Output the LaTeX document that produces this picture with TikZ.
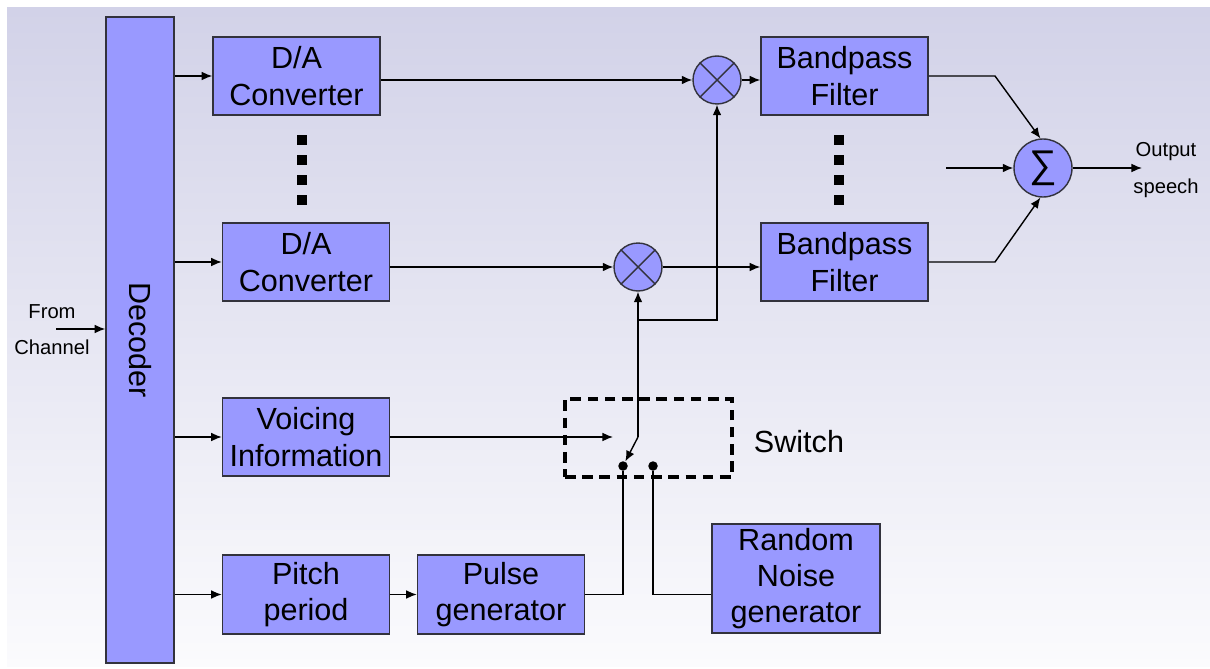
\documentclass[tikz,border=0pt]{standalone}
\usepackage{fontspec}
\setmainfont{Liberation Sans}
\usetikzlibrary{arrows.meta}

\definecolor{boxblue}{RGB}{153,153,255}
\definecolor{bgtop}{RGB}{210,210,232}
\definecolor{bgbot}{RGB}{251,251,253}
\definecolor{edge}{RGB}{50,50,60}

\begin{document}
\begin{tikzpicture}[
  x=0.02cm, y=-0.02cm,
  block/.style={draw=edge, fill=boxblue, line width=0.9pt, minimum width=3.34cm, minimum height=1.56cm,
                align=center, inner sep=1pt, font=\fontsize{17.4}{20.7}\selectfont},
  mixer/.style={circle, draw=edge, fill=boxblue, line width=0.8pt, minimum size=0.96cm, inner sep=0pt},
  arrow/.style={-{Latex[length=6pt, width=5pt]}, line width=0.8pt},
  wire/.style={line width=0.8pt},
  small/.style={font=\fontsize{11.5}{13}\selectfont},
  contact/.style={circle, fill=black, minimum size=0.19cm, inner sep=0pt},
]

% Background
\useasboundingbox (0,0) rectangle (1210,669);
\shade[top color=bgtop, bottom color=bgbot] (7,8) rectangle (1210,666);

% Decoder
\node[block, minimum width=1.36cm, minimum height=12.92cm] (dec) at (140,340) {};
\node[rotate=-90, font=\fontsize{17.4}{20.7}\selectfont] (declabel) at (dec.center) {Decoder};
\node[small] (from) at (52,312) {From};
\node[small] (chan) at (52,347) {Channel};
\coordinate (chin) at (56,329);
\draw[arrow] (chin) -- (chin -| dec.west);

% Channel blocks
\node[block] (da1) at (296.5,76) {D/A\\Converter};
\node[block] (da2) at (306,262) {D/A\\Converter};
\node[block] (voi) at (306,437) {Voicing\\Information};
\node[block, minimum height=1.58cm] (pit) at (306,594.5) {Pitch\\period};
\node[block, minimum height=1.58cm] (pul) at (501,594.5) {Pulse\\generator};
\node[block, minimum width=3.36cm, minimum height=2.18cm] (rng) at (796,578.5) {Random\\Noise\\generator};
\node[block] (bp1) at (844.5,76) {Bandpass\\Filter};
\node[block] (bp2) at (844.5,262) {Bandpass\\Filter};

% Ellipsis dots
\foreach \y in {140,160,180,200} {
  \fill (296.5,\y-5) rectangle (306.5,\y+5);
  \fill (834,\y-5) rectangle (844,\y+5);
}

% Multipliers and sum
\node[mixer] (mx1) at (717,80) {};
\node[mixer] (mx2) at (638,267) {};
\draw[wire, edge] (mx1.north east) -- (mx1.south west) (mx1.north west) -- (mx1.south east);
\draw[wire, edge] (mx2.north east) -- (mx2.south west) (mx2.north west) -- (mx2.south east);
\node[mixer, minimum size=1.16cm, font=\fontsize{22}{22}\selectfont] (sum) at (1043,168) {∑};

% Decoder outputs
\draw[arrow] (dec.east |- da1) -- (da1);
\draw[arrow] (dec.east |- da2) -- (da2);
\draw[arrow] (dec.east |- voi) -- (voi);
\draw[arrow] (dec.east |- pit) -- (pit);
\draw[arrow] (pit) -- (pul);

% Signal paths
\draw[arrow] (da1.east |- mx1) -- (mx1);
\draw[arrow] (mx1) -- (mx1 -| bp1.west);
\draw[arrow] (da2.east |- mx2) -- (mx2);
\draw[arrow] (mx2) -- (mx2 -| bp2.west);

% Switch
\node[draw, line width=2pt, dash pattern=on 6pt off 3.8pt, minimum width=3.34cm, minimum height=1.56cm] (sw) at (648.5,438) {};
\node[font=\fontsize{17.4}{20.7}\selectfont] (swlabel) at (799,442) {Switch};
\node[contact] (ca) at (623,466) {};
\node[contact] (cb) at (653,466) {};
\coordinate (vin) at (613,437);
\coordinate (piv) at (638,437);
\coordinate (jn) at (638,320);
\draw[arrow] (voi) -- (vin);
\draw[arrow] (piv) -- (ca);
\draw[wire] (piv) -- (jn);
\draw[arrow] (jn) -- (mx2);
\draw[arrow] (jn) -| (mx1);
\draw[wire] (pul.east) -| (ca);
\draw[wire] (rng.west |- pul.east) -| (cb);

% Summation
\coordinate (k1) at (995,76);
\coordinate (k2) at (995,262);
\coordinate (mid) at (946,168);
\coordinate (out) at (1142,168);
\draw[arrow] (bp1.east |- k1) -- (k1) -- (sum.95);
\draw[arrow] (bp2.east |- k2) -- (k2) -- (sum.265);
\draw[arrow] (mid) -- (sum);
\draw[arrow] (sum) -- (out);
\node[small] (outa) at (1166,152) {Output};
\node[small] (outb) at (1166,188) {speech};

\end{tikzpicture}
\end{document}
